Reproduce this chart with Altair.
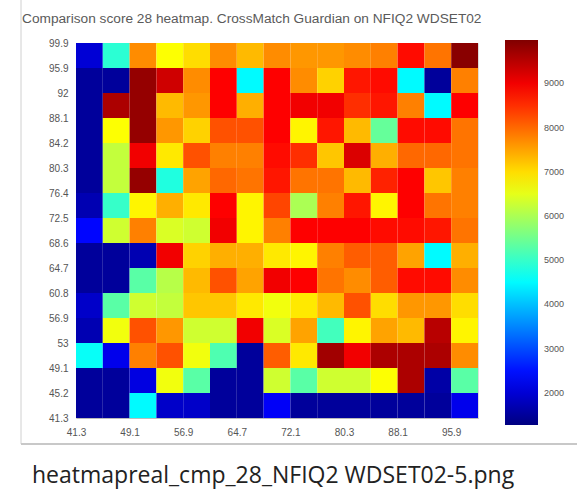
import json
import altair as alt
import pandas as pd

title_text = "Comparison score 28 heatmap. CrossMatch Guardian on NFIQ2 WDSET02"
caption_text = "heatmapreal_cmp_28_NFIQ2 WDSET02-5.png"

# bin edges, bottom to top (y) and every second edge (x)
y_labels = ["41.3", "45.2", "49.1", "53", "56.9", "60.8", "64.7", "68.6",
            "72.5", "76.4", "80.3", "84.2", "88.1", "92", "95.9", "99.9"]
x_labels = ["41.3", "49.1", "56.9", "64.7", "72.1", "80.3", "88.1", "95.9"]
colorbar_ticks = [2000, 3000, 4000, 5000, 6000, 7000, 8000, 9000]
color_min, color_max = 1270, 9980

# rows of the heatmap, top row (95.9-99.9) first, columns left to right
row_01 = [2000, 4900, 7700, 6700, 7000, 7700, 7300, 7700, 7600, 7600, 7700, 7800, 8800, 7900, 9900]
row_02 = [1500, 1500, 9800, 9300, 7700, 8900, 4500, 8900, 7700, 7100, 8700, 8800, 4500, 1500, 7800]
row_03 = [1500, 9600, 9800, 7300, 7600, 8900, 7400, 8900, 9000, 9000, 8500, 8700, 7800, 4500, 8900]
row_04 = [1500, 6700, 9800, 7600, 7100, 8200, 8200, 8900, 6800, 8700, 7300, 5400, 8800, 8800, 7900]
row_05 = [1500, 6200, 9000, 6900, 8200, 7800, 7800, 8800, 8500, 7200, 9200, 7400, 8000, 8000, 7900]
row_06 = [1500, 6200, 9800, 4800, 7500, 8000, 7900, 8700, 7900, 7900, 7300, 8600, 8900, 7200, 7800]
row_07 = [1700, 5000, 6800, 7400, 6900, 8900, 6800, 8300, 6000, 7800, 8700, 6800, 8900, 7900, 7800]
row_08 = [2400, 6300, 7800, 6400, 6300, 9000, 6800, 7800, 8900, 8900, 8900, 8800, 8800, 8700, 7900]
row_09 = [1500, 1500, 1700, 9000, 7100, 7400, 7400, 6900, 6800, 7800, 8100, 8100, 7500, 4500, 7400]
row_10 = [1500, 1500, 5300, 6100, 7300, 8200, 7500, 9000, 8900, 7900, 7700, 8100, 8800, 8800, 7700]
row_11 = [1900, 5300, 6300, 6200, 7200, 7200, 6900, 6600, 6900, 7300, 8200, 7000, 7600, 7600, 7000]
row_12 = [1700, 6600, 8200, 7600, 6300, 6300, 9000, 6400, 7500, 5100, 6800, 7500, 7300, 9500, 6800]
row_13 = [4600, 2200, 7800, 8200, 6600, 5200, 1500, 8100, 6900, 9700, 9000, 9600, 9600, 9600, 7700]
row_14 = [1500, 1500, 2100, 6600, 5300, 1500, 1500, 6300, 5300, 6300, 6300, 6700, 9600, 1600, 5300]
row_15 = [1500, 1500, 4500, 1900, 1900, 1500, 1500, 2300, 1500, 1500, 1500, 1500, 1500, 1500, 2200]

rows = [row_01, row_02, row_03, row_04, row_05, row_06, row_07, row_08,
        row_09, row_10, row_11, row_12, row_13, row_14, row_15]
n = len(rows)

records = []
for r, row in enumerate(rows):
    for c, v in enumerate(row):
        records.append({"x": c, "x2": c + 1, "y": n - 1 - r, "y2": n - r, "v": v})
df = pd.DataFrame(records)

# jet colormap as a piecewise-linear scale
span = color_max - color_min
jet_stops = [0, 0.125, 0.375, 0.625, 0.875, 1]
jet_colors = ["#000080", "#0000ff", "#00ffff", "#ffff00", "#ff0000", "#800000"]
jet_domain = [color_min + t * span for t in jet_stops]

x_expr = json.dumps(x_labels) + "[round(datum.value / 2)]"
y_expr = json.dumps(y_labels) + "[round(datum.value)]"

heat = alt.Chart(df).mark_rect().encode(
    x=alt.X("x:Q", scale=alt.Scale(domain=[0, n], nice=False, zero=False),
            axis=alt.Axis(values=list(range(0, n, 2)), labelExpr=x_expr, title=None,
                          ticks=False, grid=False, labelPadding=9, labelFontSize=10,
                          labelColor="#555", labelFont="Liberation Sans",
                          domainColor="#bbbbbb", labelFlush=False)),
    x2="x2",
    y=alt.Y("y:Q", scale=alt.Scale(domain=[0, n], nice=False, zero=False),
            axis=alt.Axis(values=list(range(0, n + 1)), labelExpr=y_expr, title=None,
                          ticks=False, grid=False, labelPadding=8, labelFontSize=10,
                          labelColor="#555", labelFont="Liberation Sans",
                          domainColor="#dddddd", labelFlush=False)),
    y2="y2",
    color=alt.Color("v:Q",
                    scale=alt.Scale(domain=jet_domain, range=jet_colors, interpolate="rgb"),
                    legend=alt.Legend(orient="none", legendX=429, legendY=-3,
                                      direction="vertical", gradientLength=385,
                                      gradientThickness=33, values=colorbar_ticks,
                                      format="d",
                                      labelFontSize=9, labelColor="#555",
                                      labelFont="Liberation Sans", labelOffset=6,
                                      gradientStrokeWidth=0, title=None)),
)

frame_src = pd.DataFrame({"k": [0]})
frame_left = alt.Chart(frame_src).mark_rule(color="#d0d0d0", strokeWidth=1).encode(
    x=alt.value(-55), y=alt.value(-43), y2=alt.value(401))
frame_bottom = alt.Chart(frame_src).mark_rule(color="#c8c8c8", strokeWidth=2).encode(
    x=alt.value(-55), x2=alt.value(501), y=alt.value(401))

title = alt.Chart(frame_src).mark_text(
    align="left", baseline="middle", fontSize=13.7, font="Liberation Sans", color="#5a5a5a"
).encode(x=alt.value(-54), y=alt.value(-24), text=alt.value(title_text))

caption = alt.Chart(frame_src).mark_text(
    align="left", baseline="alphabetic", fontSize=23, font="Open Sans", color="#222222"
).encode(x=alt.value(-44), y=alt.value(440), text=alt.value(caption_text))

chart = alt.layer(frame_left, frame_bottom, heat, title, caption).properties(
    width=402, height=375,
    autosize=alt.AutoSizeParams(type="none"),
    padding={"left": 76, "top": 43, "right": 99, "bottom": 77},
).configure_view(strokeWidth=0).configure(background="white")

chart.save("out.html", embed_options={"renderer": "svg", "actions": False})
